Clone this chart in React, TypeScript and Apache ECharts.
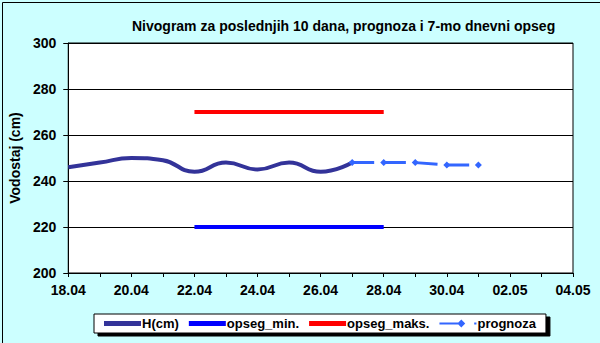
import React, { useEffect, useRef } from 'react';
import * as echarts from 'echarts';

const days = ['18.04', '19.04', '20.04', '21.04', '22.04', '23.04', '24.04', '25.04', '26.04', '27.04', '28.04', '29.04', '30.04', '01.05', '02.05', '03.05', '04.05'];
const hDates = ['18.04', '19.04', '20.04', '21.04', '22.04', '23.04', '24.04', '25.04', '26.04', '27.04'];
const hValues = [246, 248, 250, 249, 244, 248, 245, 248, 244, 248];
const rangeDates = ['22.04', '28.04'];
const minValues = [220, 220];
const maxValues = [270, 270];
const forecastDates = ['27.04', '28.04', '29.04', '30.04', '01.05'];
const forecastValues = [248, 248, 248, 247, 247];

const FONT = 'Liberation Sans, Arial, sans-serif';

const pts = (dates: string[], vals: number[]) => dates.map((d, i) => [days.indexOf(d), vals[i]]);

const LINE_ICON = 'path://M0,0 L37,0 L37,5 L0,5 Z';
const PROG_ICON = 'path://M0,3 L18,3 L18,5 L0,5 Z M16,4 L19.5,0.5 L23,4 L19.5,7.5 Z M31,3 L33,3 L33,5 L31,5 Z';

export default function App() {
  const ref = useRef<HTMLDivElement>(null);
  useEffect(() => {
    const chart = echarts.init(ref.current!, null, { renderer: 'svg' });
    chart.setOption({
      animation: false,
      backgroundColor: '#CCFFFF',
      title: {
        text: 'Nivogram za poslednjih 10 dana, prognoza i 7-mo dnevni opseg',
        left: 127,
        top: 14,
        textStyle: { fontFamily: FONT, fontSize: 14, fontWeight: 'bold', color: '#000' },
      },
      grid: {
        left: 66, right: 27, top: 43, bottom: 70,
        show: true, backgroundColor: '#fff', borderColor: '#000', borderWidth: 1,
      },
      xAxis: {
        type: 'value', min: 0, max: 16, interval: 2,
        axisLine: { show: true, lineStyle: { color: '#000', width: 1 } },
        axisTick: { show: true, length: 4, lineStyle: { color: '#000' } },
        minorTick: { show: true, splitNumber: 2, length: 4, lineStyle: { color: '#000' } },
        splitLine: { show: false },
        axisLabel: {
          formatter: (v: number) => days[v] ?? '',
          fontFamily: FONT, fontSize: 14, fontWeight: 'bold', color: '#000', margin: 10,
        },
      },
      yAxis: {
        type: 'value', min: 200, max: 300, interval: 20,
        name: 'Vodostaj (cm)', nameLocation: 'middle', nameRotate: 90, nameGap: 41,
        nameTextStyle: { fontFamily: FONT, fontSize: 14, fontWeight: 'bold', color: '#000' },
        axisLine: { show: true, lineStyle: { color: '#000', width: 1 } },
        axisTick: { show: true, length: 5, lineStyle: { color: '#000' } },
        splitLine: { show: true, lineStyle: { color: '#000', width: 1 } },
        axisLabel: { fontFamily: FONT, fontSize: 14, fontWeight: 'bold', color: '#000', margin: 12 },
      },
      legend: {
        left: 94, top: 314,
        backgroundColor: '#fff', borderColor: '#000', borderWidth: 1,
        shadowColor: '#000', shadowBlur: 0, shadowOffsetX: 4, shadowOffsetY: 3,
        padding: [3, 10, 3, 10], itemGap: 10, itemWidth: 37, itemHeight: 8,
        itemStyle: { borderWidth: 0 },
        textStyle: { fontFamily: FONT, fontSize: 13, fontWeight: 'bold', color: '#000', padding: [0, 0, 0, -4] },
        data: [
          { name: 'H(cm)', icon: LINE_ICON },
          { name: 'opseg_min.', icon: LINE_ICON },
          { name: 'opseg_maks.', icon: LINE_ICON },
          { name: 'prognoza', icon: PROG_ICON },
        ],
      },
      series: [
        {
          name: 'H(cm)', type: 'line', smooth: 0.5, symbol: 'none',
          data: pts(hDates, hValues),
          lineStyle: { color: '#333399', width: 4 }, itemStyle: { color: '#333399' },
        },
        {
          name: 'opseg_min.', type: 'line', symbol: 'none',
          data: pts(rangeDates, minValues),
          lineStyle: { color: '#0000FF', width: 4 }, itemStyle: { color: '#0000FF' },
        },
        {
          name: 'opseg_maks.', type: 'line', symbol: 'none',
          data: pts(rangeDates, maxValues),
          lineStyle: { color: '#FF0000', width: 4 }, itemStyle: { color: '#FF0000' },
        },
        {
          name: 'prognoza', type: 'line', symbol: 'diamond', symbolSize: 7,
          data: pts(forecastDates, forecastValues),
          lineStyle: { color: '#3366FF', width: 3, type: [22, 9.7] },
          itemStyle: { color: '#3366FF' },
        },
      ],
      graphic: [
        { type: 'rect', left: 0, top: 0, shape: { width: 599, height: 342 }, style: { fill: 'none', stroke: '#000', lineWidth: 1 }, silent: true },
      ],
    });
    return () => chart.dispose();
  }, []);
  return <div ref={ref} style={{ position: 'fixed', left: 0, top: 0, width: 600, height: 343 }} />;
}
